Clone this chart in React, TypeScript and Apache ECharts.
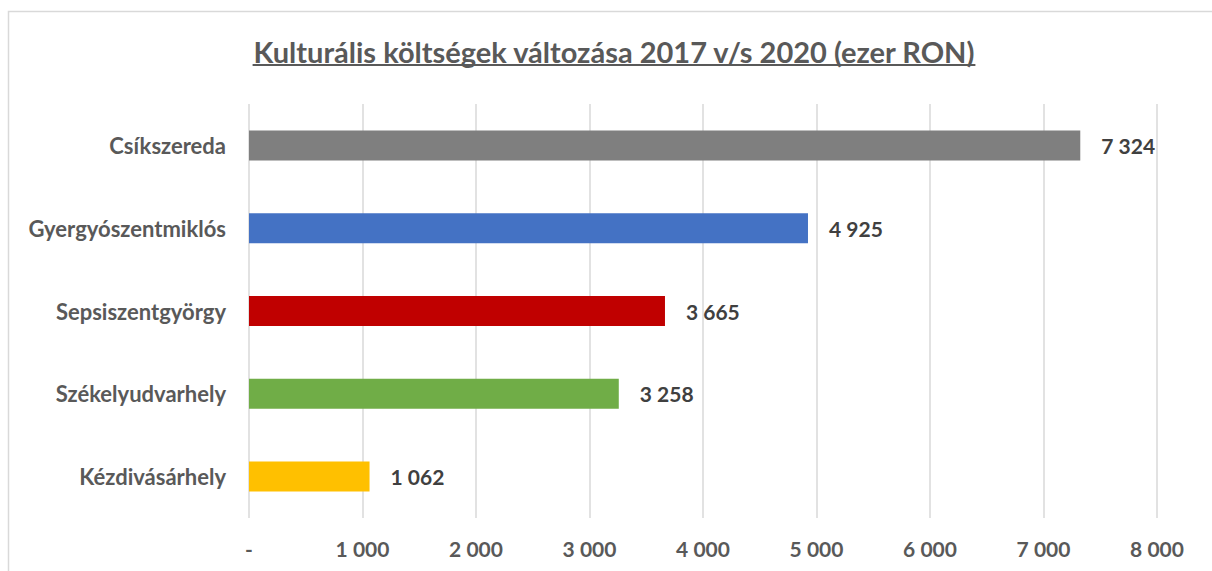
import React, { useEffect, useRef } from "react";
import * as echarts from "echarts";

const titleText = "Kulturális költségek változása 2017 v/s 2020 (ezer RON)";
const categories = ["Kézdivásárhely", "Székelyudvarhely", "Sepsiszentgyörgy", "Gyergyószentmiklós", "Csíkszereda"];
const values = [1062, 3258, 3665, 4925, 7324];
const barColors = ["#FFC000", "#70AD47", "#C00000", "#4472C4", "#7F7F7F"];
const axisMax = 8000;
const axisStep = 1000;

const FONT = "Lato";
const fmt = (v: number) => (v === 0 ? "-" : String(v).replace(/\B(?=(\d{3})+(?!\d))/g, " "));

export default function App() {
  const ref = useRef<HTMLDivElement>(null);
  useEffect(() => {
    if (!ref.current) return;
    const chart = echarts.init(ref.current, undefined, { renderer: "svg" });
    const titleFont = `bold 29px ${FONT}`;
    const ctx = document.createElement("canvas").getContext("2d")!;
    ctx.font = titleFont;
    const tw = ctx.measureText(titleText).width;
    const cx = 614;
    chart.setOption({
      animation: false,
      backgroundColor: "#ffffff",
      grid: { left: 249, right: 55, top: 104, bottom: 53, containLabel: false },
      xAxis: {
        type: "value",
        min: 0,
        max: axisMax,
        interval: axisStep,
        axisLine: { show: false },
        axisTick: { show: false },
        splitLine: { show: true, lineStyle: { color: "#D9D9D9", width: 1.5 } },
        axisLabel: {
          formatter: (v: number) => fmt(v),
          color: "#595959",
          fontFamily: FONT,
          fontWeight: "bold",
          fontSize: 21,
          margin: 20,
        },
      },
      yAxis: {
        type: "category",
        data: categories,
        axisLine: { show: false },
        axisTick: { show: false },
        axisLabel: {
          color: "#595959",
          fontFamily: FONT,
          fontWeight: "bold",
          fontSize: 22,
          margin: 23,
        },
      },
      series: [
        {
          type: "bar",
          data: values.map((v, i) => ({ value: v, itemStyle: { color: barColors[i] } })),
          barWidth: 30,
          label: {
            show: true,
            position: "right",
            distance: 21,
            color: "#404040",
            fontFamily: FONT,
            fontWeight: "bold",
            fontSize: 21,
            formatter: (p: any) => fmt(p.value),
          },
        },
      ],
      graphic: [
        {
          type: "rect",
          shape: { x: 8.5, y: 11.5, width: 1400, height: 800 },
          style: { fill: "none", stroke: "#D9D9D9", lineWidth: 1.5 },
          silent: true,
        },
        {
          type: "text",
          x: cx,
          y: 51,
          style: {
            text: titleText,
            font: titleFont,
            fill: "#595959",
            align: "center",
            verticalAlign: "middle",
          },
        },
        {
          type: "rect",
          shape: { x: cx - tw / 2, y: 64, width: tw, height: 2 },
          style: { fill: "#595959" },
        },
      ],
    });
    return () => chart.dispose();
  }, []);
  return <div ref={ref} style={{ position: "fixed", left: 0, top: 0, width: 1212, height: 571 }} />;
}
